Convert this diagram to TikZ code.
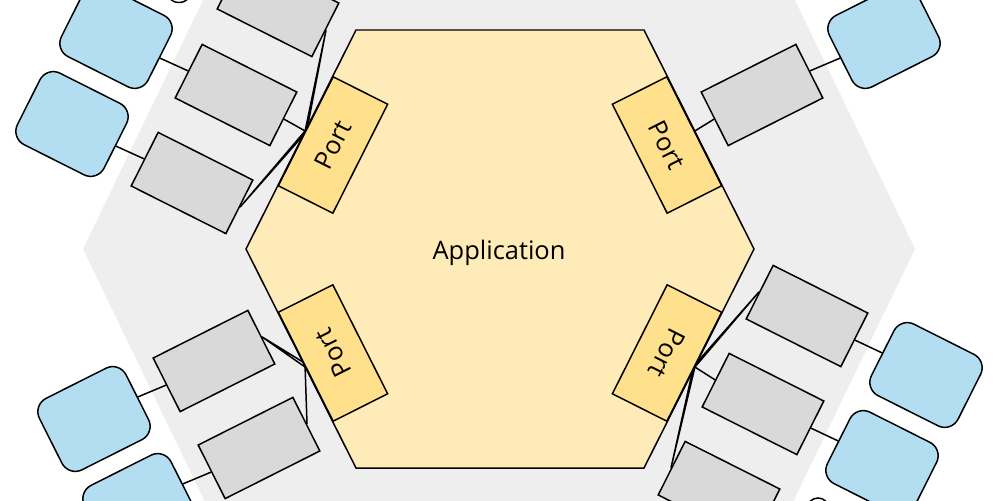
\documentclass[tikz,border=0pt]{standalone}
\usepackage{fontspec}
\setmainfont{Open Sans}
\usetikzlibrary{calc}

\definecolor{hexgray}{RGB}{238,238,238}
\definecolor{appyellow}{RGB}{255,235,184}
\definecolor{portyellow}{RGB}{255,224,140}
\definecolor{adaptgray}{RGB}{217,217,217}
\definecolor{actorblue}{RGB}{179,222,242}

\begin{document}
\begin{tikzpicture}[x=0.02cm,y=-0.02cm,
  port/.style={draw,fill=portyellow,line width=0.85pt,minimum width=2.44cm,minimum height=1.22cm,inner sep=0pt,font=\fontsize{14.5}{17}\selectfont},
  adapter/.style={draw,fill=adaptgray,line width=0.85pt,minimum width=2.12cm,minimum height=1.2cm},
  actor/.style={draw,fill=actorblue,line width=0.85pt,rounded corners=0.3cm,minimum width=1.94cm,minimum height=1.6cm},
  link/.style={line width=0.85pt}]

\useasboundingbox (0,0) rectangle (1000,500);
\clip (0,0) rectangle (1000,500);

\path[shape=coordinate]
(83,249) coordinate(h11) (262,-122) coordinate(h12)
(736,-122) coordinate(h13) (915,249) coordinate(h14)
(736,620) coordinate(h15) (262,620) coordinate(h16);
\fill[hexgray] (h11) -- (h12) -- (h13) -- (h14) -- (h15) -- (h16) -- cycle;

\path[shape=coordinate]
(246,249) coordinate(h21) (356,30) coordinate(h22)
(644,30) coordinate(h23) (754,249) coordinate(h24)
(644,468) coordinate(h25) (356,468) coordinate(h26);
\filldraw[fill=appyellow,line width=0.85pt] (h21) -- (h22) -- (h23) -- (h24) -- (h25) -- (h26) -- cycle;

\node[font=\fontsize{14.5}{17}\selectfont] (app) at (499,253) {Application};

\node[port,rotate=63.3] (ptl) at (333,145) {Port};
\node[port,rotate=-63.3] (ptr) at (667,145) {Port};
\node[port,rotate=116.7] (pbl) at (333,353) {Port};
\node[port,rotate=-116.7] (pbr) at (667,353) {Port};

\node[adapter,rotate=-26.7] (a1) at (278,6) {};
\node[adapter,rotate=-26.7] (a2) at (236,95) {};
\node[adapter,rotate=-26.7] (a3) at (192,183) {};
\node[adapter,rotate=26.7] (c1) at (762,95) {};
\node[adapter,rotate=-26.7] (e1) at (807,316) {};
\node[adapter,rotate=-26.7] (e2) at (763,404) {};
\node[adapter,rotate=-26.7] (e3) at (719,492) {};
\node[adapter,rotate=26.7] (g1) at (214,361) {};
\node[adapter,rotate=26.7] (g2) at (259,448) {};

\node[actor,rotate=-26.7] (b1) at (116,36) {};
\node[actor,rotate=-26.7] (b2) at (72,124) {};
\node[actor,rotate=26.7] (d1) at (884,36) {};
\node[actor,rotate=-26.7] (f1) at (926,375) {};
\node[actor,rotate=-26.7] (f2) at (882,463) {};
\node[actor,rotate=26.7] (h1) at (94,419) {};
\node[actor,rotate=26.7] (h2) at (139,506) {};

\draw[link] (179,-11) circle (13.5);
\draw[link] (818,509) circle (11);

\draw[link] (b1.east) -- (a2.west);
\draw[link] (b2.east) -- (a3.west);
\draw[link] (a2.east) -- (ptl.north);
\draw[link] (a1.east) -- (ptl.north) (a1.east) -- ($(ptl.north)!0.12cm!(ptl.north east)$);
\draw[link] (a3.east) -- (ptl.north) (a3.east) -- ($(ptl.north)!0.12cm!(ptl.north west)$);

\draw[link] (ptr.north) -- (c1.west);
\draw[link] (c1.east) -- (d1.west);

\draw[link] (pbr.north) -- (e2.west);
\draw[link] (e1.west) -- (pbr.north) (e1.west) -- ($(pbr.north)!0.12cm!(pbr.north west)$);
\draw[link] (e3.west) -- (pbr.north) (e3.west) -- ($(pbr.north)!0.12cm!(pbr.north east)$);
\draw[link] (e1.east) -- (f1.west);
\draw[link] (e2.east) -- (f2.west);

\draw[link] (g2.east) -- (pbl.north);
\draw[link] (g1.east) -- (pbl.north) (g1.east) -- ($(pbl.north)!0.12cm!(pbl.north east)$);
\draw[link] (h1.east) -- (g1.west);
\draw[link] (h2.east) -- (g2.west);

\end{tikzpicture}
\end{document}
